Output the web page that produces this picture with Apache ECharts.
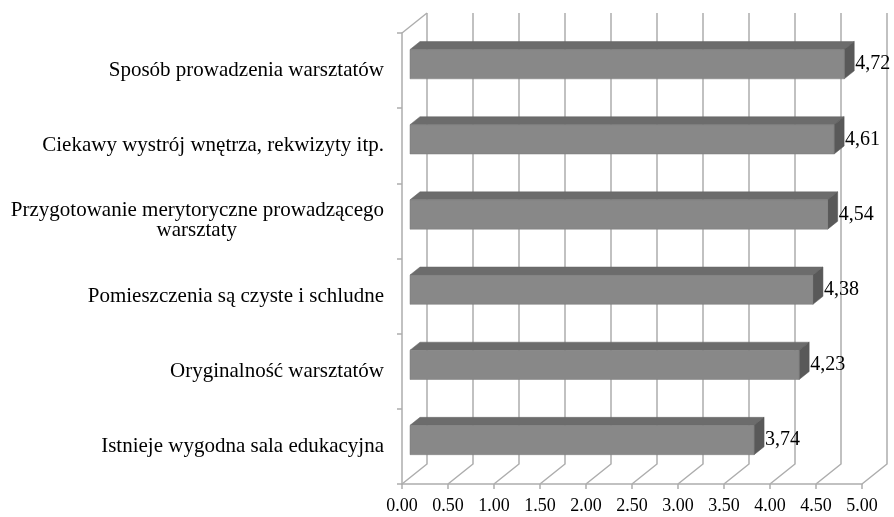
<!DOCTYPE html>
<html><head><meta charset="utf-8">
<script src="https://cdn.jsdelivr.net/npm/echarts@6/dist/echarts.min.js"></script>
<style>html,body{margin:0;padding:0;background:#fff}#c{width:894px;height:517px}</style>
</head><body><div id="c"></div>
<script>
var categories = [
  'Sposób prowadzenia warsztatów',
  'Ciekawy wystrój wnętrza, rekwizyty itp.',
  'Przygotowanie merytoryczne prowadzącego\nwarsztaty',
  'Pomieszczenia są czyste i schludne',
  'Oryginalność warsztatów',
  'Istnieje wygodna sala edukacyjna'
];
var values = [4.72, 4.61, 4.54, 4.38, 4.23, 3.74];
var xTicks = [0, 0.5, 1, 1.5, 2, 2.5, 3, 3.5, 4, 4.5, 5];

var DX = 25, DY = -20;          // wall depth
var FX = 8, FY = -6.4;           // bar front plane offset
var BX = 10, BY = -8;            // bar depth
var GRID = '#adadad';
var FONT = 'Liberation Serif';
var CAT_FONT = '21px "' + FONT + '"';

var mctx = document.createElement('canvas').getContext('2d');
mctx.font = CAT_FONT;

var chart = echarts.init(document.getElementById('c'));
chart.setOption({
  animation: false,
  grid: {left: 402, right: 32, top: 33, bottom: 33},
  xAxis: {
    type: 'value', min: 0, max: 5, interval: 0.5,
    axisLine: {show: true, lineStyle: {color: GRID, width: 1.5}},
    axisTick: {show: true, length: 5, lineStyle: {color: GRID, width: 1.5}},
    splitLine: {show: false},
    axisLabel: {formatter: function (v) { return v.toFixed(2); }, fontFamily: FONT, fontSize: 18, color: '#000', margin: 13}
  },
  yAxis: {
    type: 'category', inverse: true, data: categories,
    axisLine: {show: true, lineStyle: {color: GRID, width: 1.5}},
    axisTick: {show: true, length: 5, lineStyle: {color: GRID, width: 1.5}},
    axisLabel: {
      fontFamily: FONT, fontSize: 21, color: '#000', margin: 18, align: 'right', lineHeight: 20,
      formatter: function (v) {
        var lines = v.split('\n');
        if (lines.length === 1) return v;
        var w = 0;
        lines.forEach(function (l) { w = Math.max(w, Math.ceil(mctx.measureText(l).width)); });
        return lines.map(function (l) {
          var pad = Math.round((w - mctx.measureText(l).width) / 2);
          return '{c|' + l + '}' + (pad > 0 ? '{p' + pad + '|}' : '');
        }).join('\n');
      },
      rich: (function () {
        var r = {c: {fontFamily: FONT, fontSize: 21, color: '#000', lineHeight: 20}};
        for (var k = 1; k <= 400; k++) r['p' + k] = {width: k, lineHeight: 20};
        return r;
      })()
    }
  },
  series: [
    {
      type: 'custom', z: 1,
      data: xTicks.map(function (t) { return [t, 0]; }),
      renderItem: function (params, api) {
        var cs = params.coordSys;
        var x = api.coord([api.value(0), 0])[0];
        var yb = cs.y + cs.height, yt = cs.y;
        var children = [{
          type: 'polyline',
          shape: {points: [[x, yb], [x + DX, yb + DY], [x + DX, yt + DY]]},
          style: {stroke: GRID, lineWidth: 1.5, fill: null}
        }];
        if (api.value(0) === 0) {
          children.push({type: 'line', shape: {x1: x, y1: yt, x2: x + DX, y2: yt + DY},
            style: {stroke: GRID, lineWidth: 1.5}});
        }
        return {type: 'group', children: children};
      }
    },
    {
      type: 'custom', z: 3,
      data: values.map(function (v, i) { return [v, i]; }),
      renderItem: function (params, api) {
        var v = api.value(0), i = api.value(1);
        var s = api.coord([0, i]), e = api.coord([v, i]);
        var band = api.size([0, 1])[1];
        var h = band * 0.39;
        var x0 = s[0] + FX, x1 = e[0] + FX, yc = e[1] + FY;
        var top = yc - h / 2, bot = yc + h / 2;
        return {type: 'group', children: [
          {type: 'polygon', shape: {points: [[x0, top], [x1, top], [x1 + BX, top + BY], [x0 + BX, top + BY]]},
            style: {fill: '#6c6c6c', stroke: '#666', lineWidth: 0.5}},
          {type: 'polygon', shape: {points: [[x1, top], [x1 + BX, top + BY], [x1 + BX, bot + BY], [x1, bot]]},
            style: {fill: '#595959', stroke: '#555', lineWidth: 0.5}},
          {type: 'rect', shape: {x: x0, y: top, width: x1 - x0, height: h},
            style: {fill: '#888888', stroke: '#7a7a7a', lineWidth: 0.5}},
          {type: 'text', x: x1 + BX + 1, y: yc,
            style: {text: v.toFixed(2).replace('.', ','), font: '20px "' + FONT + '"', fill: '#000',
              align: 'left', verticalAlign: 'middle'}}
        ]};
      }
    }
  ]
});
</script></body></html>
